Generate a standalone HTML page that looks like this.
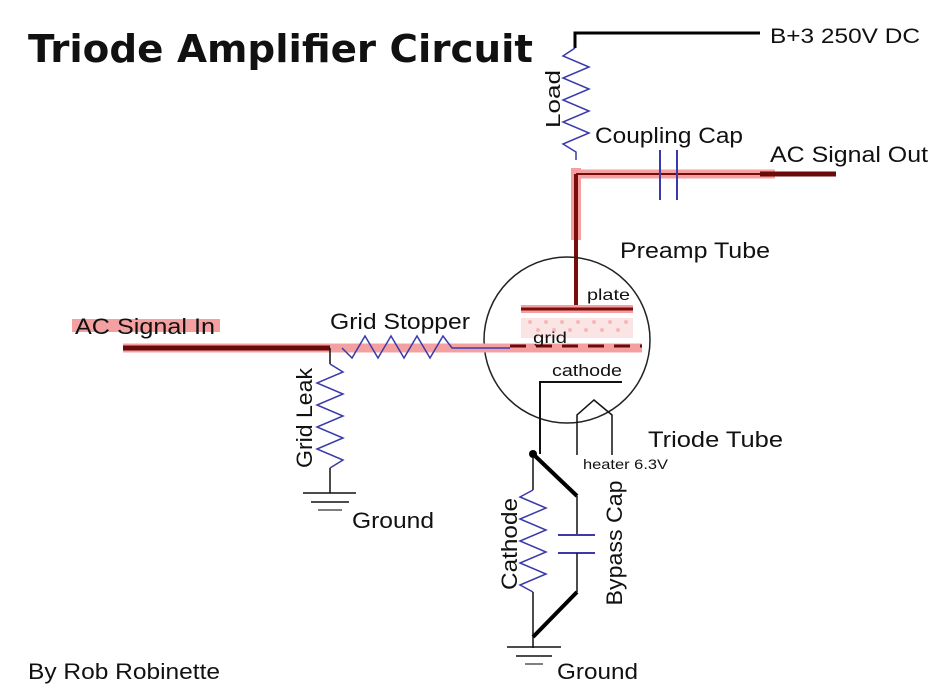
<!DOCTYPE html>
<html><head><meta charset="utf-8"><style>
html,body{margin:0;padding:0;background:#fff;width:938px;height:697px;overflow:hidden}
svg{display:block}
text{font-family:"Liberation Sans","DejaVu Sans",sans-serif;fill:#111}
</style></head><body>
<svg width="938" height="697" viewBox="0 0 938 697" xmlns="http://www.w3.org/2000/svg">
<rect width="938" height="697" fill="#fff"/>
<text x="28" y="62" font-size="38" font-weight="bold" textLength="505" lengthAdjust="spacingAndGlyphs" fill="#000" style="font-family:'DejaVu Sans',sans-serif">Triode Amplifier Circuit</text>

<polyline points="575,48 575,33 760,33" fill="none" stroke="#000" stroke-width="3"/>
<text x="770" y="43" font-size="21" textLength="150" lengthAdjust="spacingAndGlyphs">B+3 250V DC</text>
<polyline points="575,48 563,56 589,67 563,78 589,89 563,100 589,111 563,122 589,133 563,144 576,152 576,160" fill="none" stroke="#3a3aaa" stroke-width="1.5"/>
<text transform="translate(560,99) rotate(-90)" font-size="20" text-anchor="middle" textLength="58" lengthAdjust="spacingAndGlyphs">Load</text>
<text x="595" y="143" font-size="22" textLength="148" lengthAdjust="spacingAndGlyphs">Coupling Cap</text>

<line x1="576" y1="168" x2="576" y2="240" stroke="#f4a0a0" stroke-width="10"/>
<line x1="572" y1="174" x2="775" y2="174" stroke="#f4a0a0" stroke-width="9"/>
<line x1="576" y1="174" x2="576" y2="305" stroke="#7a0c0c" stroke-width="4"/>
<line x1="576" y1="174" x2="760" y2="174" stroke="#7a0c0c" stroke-width="2"/>
<line x1="760" y1="174" x2="836" y2="174" stroke="#6a0a0a" stroke-width="5"/>
<line x1="660" y1="150" x2="660" y2="200" stroke="#3a3aaa" stroke-width="2"/>
<line x1="677" y1="150" x2="677" y2="200" stroke="#3a3aaa" stroke-width="2"/>
<text x="770" y="162" font-size="22" textLength="158" lengthAdjust="spacingAndGlyphs">AC Signal Out</text>
<text x="620" y="258" font-size="22" textLength="150" lengthAdjust="spacingAndGlyphs">Preamp Tube</text>

<circle cx="567" cy="340" r="83" fill="none" stroke="#222" stroke-width="1.5"/>
<line x1="521" y1="309" x2="633" y2="309" stroke="#f4a0a0" stroke-width="8"/>
<line x1="521" y1="309" x2="633" y2="309" stroke="#7a0c0c" stroke-width="3"/>
<text x="587" y="300" font-size="16" textLength="43" lengthAdjust="spacingAndGlyphs">plate</text>
<g fill="#f6b8b8">
<rect x="521" y="318" width="112" height="20" fill="#fbe4e4"/>
<circle cx="530" cy="322" r="2"/><circle cx="546" cy="322" r="2"/><circle cx="562" cy="322" r="2"/><circle cx="578" cy="322" r="2"/><circle cx="594" cy="322" r="2"/><circle cx="610" cy="322" r="2"/><circle cx="626" cy="322" r="2"/>
<circle cx="538" cy="330" r="2"/><circle cx="554" cy="330" r="2"/><circle cx="570" cy="330" r="2"/><circle cx="586" cy="330" r="2"/><circle cx="602" cy="330" r="2"/><circle cx="618" cy="330" r="2"/>
</g>
<line x1="330" y1="348" x2="642" y2="348" stroke="#f4a0a0" stroke-width="9"/>
<line x1="510" y1="346" x2="642" y2="346" stroke="#6a0a0a" stroke-width="3" stroke-dasharray="16,10"/>
<text x="533" y="343" font-size="16" textLength="34" lengthAdjust="spacingAndGlyphs">grid</text>
<text x="552" y="376" font-size="17" textLength="70" lengthAdjust="spacingAndGlyphs">cathode</text>
<polyline points="622,382 540,382 540,454" fill="none" stroke="#111" stroke-width="2"/>
<polyline points="577,455 577,415 594,400 612,415 612,455" fill="none" stroke="#111" stroke-width="1.5"/>
<text x="583" y="469" font-size="14" textLength="85" lengthAdjust="spacingAndGlyphs">heater 6.3V</text>
<text x="648" y="447" font-size="22" textLength="135" lengthAdjust="spacingAndGlyphs">Triode Tube</text>

<circle cx="533" cy="454" r="4" fill="#000"/>
<line x1="533" y1="454" x2="533" y2="490" stroke="#111" stroke-width="1.5"/>
<polyline points="533,490 520,497 546,508 520,519 546,530 520,541 546,552 520,563 546,574 520,585 533,592" fill="none" stroke="#3a3aaa" stroke-width="1.5"/>
<line x1="533" y1="592" x2="533" y2="648" stroke="#111" stroke-width="1.5"/>
<line x1="533" y1="454" x2="577" y2="496" stroke="#000" stroke-width="4"/>
<line x1="577" y1="496" x2="577" y2="535" stroke="#111" stroke-width="1.5"/>
<line x1="558" y1="535" x2="595" y2="535" stroke="#3a3aaa" stroke-width="2"/>
<line x1="558" y1="553" x2="595" y2="553" stroke="#3a3aaa" stroke-width="2"/>
<line x1="577" y1="553" x2="577" y2="592" stroke="#111" stroke-width="1.5"/>
<line x1="577" y1="592" x2="533" y2="637" stroke="#000" stroke-width="4"/>
<line x1="507" y1="647" x2="561" y2="647" stroke="#111" stroke-width="1.5"/>
<line x1="516" y1="656" x2="552" y2="656" stroke="#111" stroke-width="1.5"/>
<line x1="525" y1="664" x2="543" y2="664" stroke="#555" stroke-width="1.5"/>
<text x="557" y="679" font-size="22" textLength="81" lengthAdjust="spacingAndGlyphs">Ground</text>
<text transform="translate(517,544) rotate(-90)" font-size="22" text-anchor="middle" textLength="92" lengthAdjust="spacingAndGlyphs">Cathode</text>
<text transform="translate(622,543) rotate(-90)" font-size="22" text-anchor="middle" textLength="125" lengthAdjust="spacingAndGlyphs">Bypass Cap</text>

<rect x="72" y="319" width="148" height="13" fill="#f4a0a0"/>
<text x="75" y="334" font-size="22" textLength="140" lengthAdjust="spacingAndGlyphs">AC Signal In</text>
<line x1="123" y1="348" x2="332" y2="348" stroke="#f4a0a0" stroke-width="9"/>
<line x1="123" y1="348" x2="330" y2="348" stroke="#6a0a0a" stroke-width="5"/>
<text x="330" y="329" font-size="22" textLength="140" lengthAdjust="spacingAndGlyphs">Grid Stopper</text>
<polyline points="342,348 352,358 365,336 378,358 391,336 404,358 417,336 430,358 443,336 452,348 510,348" fill="none" stroke="#3a3aaa" stroke-width="1.5"/>
<line x1="330" y1="348" x2="330" y2="364" stroke="#111" stroke-width="1.5"/>
<polyline points="330,364 343,372 317,383 343,394 317,405 343,416 317,427 343,438 317,449 343,460 330,468" fill="none" stroke="#3a3aaa" stroke-width="1.5"/>
<line x1="330" y1="468" x2="330" y2="493" stroke="#111" stroke-width="1.5"/>
<line x1="303" y1="493" x2="356" y2="493" stroke="#111" stroke-width="1.5"/>
<line x1="311" y1="502" x2="349" y2="502" stroke="#111" stroke-width="1.5"/>
<line x1="318" y1="510" x2="342" y2="510" stroke="#555" stroke-width="1.5"/>
<text x="352" y="528" font-size="22" textLength="82" lengthAdjust="spacingAndGlyphs">Ground</text>
<text transform="translate(312,418) rotate(-90)" font-size="22" text-anchor="middle" textLength="100" lengthAdjust="spacingAndGlyphs">Grid Leak</text>

<text x="28" y="679" font-size="22" textLength="192" lengthAdjust="spacingAndGlyphs">By Rob Robinette</text>
</svg>
</body></html>
